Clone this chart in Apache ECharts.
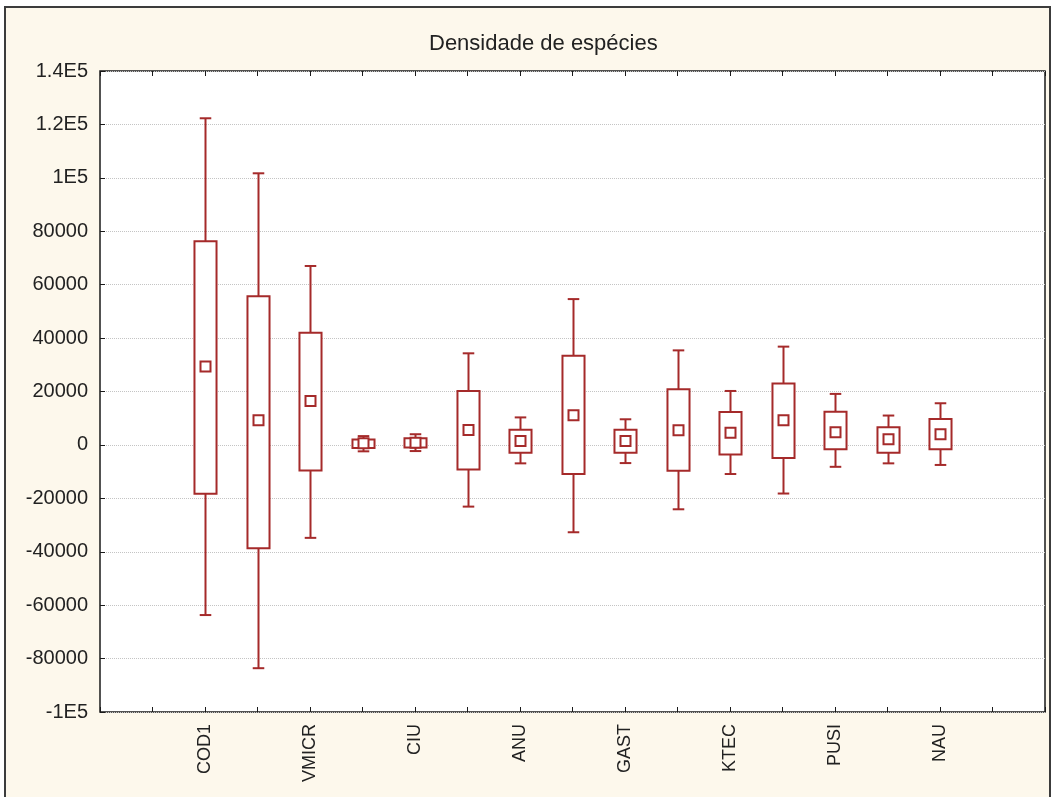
<!DOCTYPE html>
<html>
<head>
<meta charset="utf-8">
<title>Densidade de espécies</title>
<script src="https://cdn.jsdelivr.net/npm/echarts@6/dist/echarts.min.js"></script>
<style>
  html, body { margin: 0; padding: 0; background: #fff; }
  .wrap { position: relative; width: 1053px; height: 797px; overflow: hidden; }
  .frame {
    position: absolute; left: 4px; top: 6px; width: 1043px; height: 800px;
    border: 2px solid #3c3c3c; background: #fdf8ec;
  }
  #chart { position: absolute; left: 0; top: 0; width: 1053px; height: 797px; }
</style>
</head>
<body>
<div class="wrap">
  <div class="frame"></div>
  <div id="chart"></div>
</div>
<script>
// only every second box carries a label in the original
const categories = ['COD1', '', 'VMICR', '', 'CIU', '', 'ANU', '', 'GAST', '', 'KTEC', '', 'PUSI', '', 'NAU']
const whiskerHigh = [122300, 101700, 67000, 3300, 4000, 34300, 10300, 54600, 9600, 35400, 20200, 36800, 19100, 11000, 15600]
const boxHigh = [76300, 55700, 42000, 2000, 2500, 20200, 5700, 33400, 5700, 20800, 12300, 23000, 12400, 6600, 9700]
const means = [29400, 9200, 16400, 600, 800, 5600, 1500, 11100, 1500, 5500, 4600, 9200, 4700, 2100, 4000]
const boxLow = [-18300, -38700, -9600, -1200, -1000, -9200, -2900, -10900, -2900, -9700, -3600, -4900, -1600, -2900, -1600]
const whiskerLow = [-63700, -83600, -34800, -2400, -2300, -23100, -6900, -32700, -6800, -24100, -10900, -18200, -8200, -6900, -7500]

const yMin = -100000
const yMax = 140000
const yStep = 20000

// two empty slots on each side, as in the original axis
const axisData = ['', ''].concat(categories, ['', ''])
const OFFSET = 2

const lineColor = '#a52a2a'
const font = 'Arial, "Liberation Sans", sans-serif'

function yLabel (v) {
  if (Math.abs(v) >= 100000) return (v / 100000) + 'E5'
  return String(v)
}

const seriesData = categories.map((c, i) => [
  i + OFFSET, whiskerLow[i], boxLow[i], means[i], boxHigh[i], whiskerHigh[i]
])

function renderBox (params, api) {
  const x = api.value(0)
  const step = api.size([1, 0])[0]
  const halfBox = step * 0.21
  const halfCap = step * 0.11
  const halfMean = 5
  const pWl = api.coord([x, api.value(1)])
  const pBl = api.coord([x, api.value(2)])
  const pM = api.coord([x, api.value(3)])
  const pBh = api.coord([x, api.value(4)])
  const pWh = api.coord([x, api.value(5)])
  const cx = Math.round(pM[0]) + 0.5
  const style = { stroke: lineColor, lineWidth: 2, fill: '#fff' }
  return {
    type: 'group',
    children: [
      { type: 'line', shape: { x1: cx, y1: pWh[1], x2: cx, y2: pWl[1] }, style },
      { type: 'line', shape: { x1: cx - halfCap, y1: pWh[1], x2: cx + halfCap, y2: pWh[1] }, style },
      { type: 'line', shape: { x1: cx - halfCap, y1: pWl[1], x2: cx + halfCap, y2: pWl[1] }, style },
      { type: 'rect', shape: { x: cx - halfBox, y: pBh[1], width: halfBox * 2, height: pBl[1] - pBh[1] }, style },
      { type: 'rect', shape: { x: cx - halfMean, y: pM[1] - halfMean, width: halfMean * 2, height: halfMean * 2 }, style }
    ]
  }
}

const chart = echarts.init(document.getElementById('chart'))
chart.setOption({
  animation: false,
  backgroundColor: 'transparent',
  title: {
    text: 'Densidade de espécies',
    left: 424,
    top: 28,
    textStyle: { fontFamily: font, fontSize: 22, fontWeight: 'normal', color: '#222' }
  },
  grid: {
    left: 100, top: 71, right: 8, bottom: 85,
    show: true, backgroundColor: '#fff', borderColor: '#1a1a1a', borderWidth: 1.5
  },
  xAxis: [
    {
      type: 'category',
      data: axisData,
      boundaryGap: false,
      axisLine: { show: false, onZero: false },
      axisTick: { inside: true, length: 5, interval: 0, lineStyle: { color: '#1a1a1a' } },
      axisLabel: {
        interval: 0, rotate: 90, margin: 12,
        fontFamily: font, fontSize: 18, color: '#222'
      },
      splitLine: { show: false }
    },
    {
      type: 'category',
      position: 'top',
      data: axisData,
      boundaryGap: false,
      axisLine: { show: false, onZero: false },
      axisTick: { inside: true, length: 5, interval: 0, lineStyle: { color: '#1a1a1a' } },
      axisLabel: { show: false }
    }
  ],
  yAxis: {
    type: 'value',
    min: yMin,
    max: yMax,
    interval: yStep,
    axisLine: { show: false },
    axisTick: { show: true, inside: true, length: 5, lineStyle: { color: '#1a1a1a' } },
    axisLabel: { formatter: yLabel, margin: 12, fontFamily: font, fontSize: 20, color: '#222' },
    splitLine: { lineStyle: { color: '#c4c4c4', type: 'dotted', width: 1 } }
  },
  series: [
    {
      type: 'custom',
      renderItem: renderBox,
      data: seriesData,
      encode: { x: 0, y: [1, 2, 3, 4, 5] },
      clip: false
    }
  ]
})
</script>
</body>
</html>
